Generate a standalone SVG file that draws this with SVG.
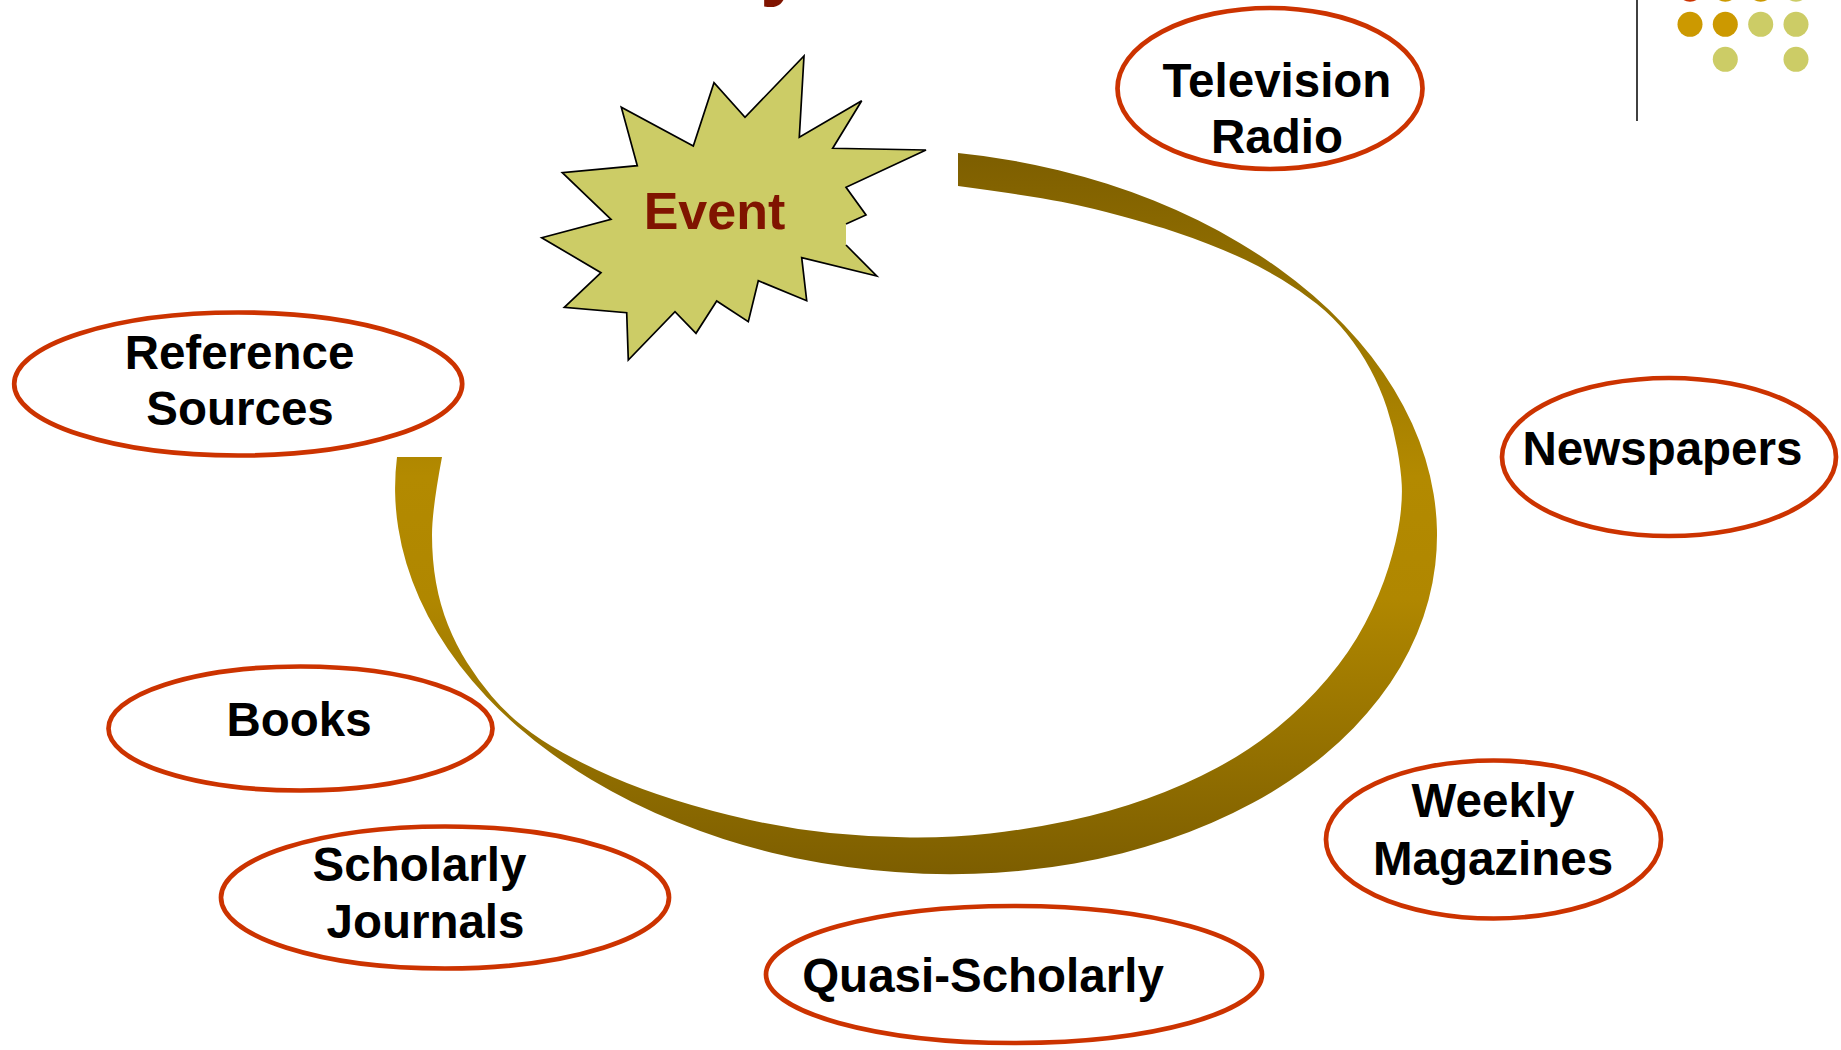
<svg xmlns="http://www.w3.org/2000/svg" width="1841" height="1050" viewBox="0 0 1841 1050">
<defs>
<linearGradient id="ribbonGrad" gradientUnits="userSpaceOnUse" x1="0" y1="153" x2="0" y2="873">
<stop offset="0" stop-color="#7d5e00"/>
<stop offset="0.45" stop-color="#b38a00"/>
<stop offset="0.62" stop-color="#b08700"/>
<stop offset="1" stop-color="#7d5e00"/>
</linearGradient>
<style>
.lbl{font-family:"Liberation Sans",Arial,Helvetica,sans-serif;font-weight:bold;font-size:47.5px;fill:#000;text-anchor:middle}
.node ellipse{fill:#fff;stroke:#cc3300;stroke-width:4.7}
.gold{fill:#cc9900}
.olive{fill:#cccc66}
.red{fill:#cc3300}
</style>
</defs>
<rect width="1841" height="1050" fill="#fff"/>
<g id="title-fragment">
<text x="760" y="-10" style="font-family:'Liberation Sans',Arial,sans-serif;font-weight:bold;font-size:80px;fill:#801400">y</text>
</g>
<g id="decoration">
<line x1="1637" y1="0" x2="1637" y2="121" stroke="#111" stroke-width="1.6"/>
<circle class="red" cx="1690" cy="-10.7" r="12.5"/>
<circle class="gold" cx="1725.3" cy="-10.7" r="12.5"/>
<circle class="gold" cx="1760.7" cy="-10.7" r="12.5"/>
<circle class="olive" cx="1796" cy="-10.7" r="12.5"/>
<circle class="gold" cx="1690" cy="24.3" r="12.5"/>
<circle class="gold" cx="1725.3" cy="24.3" r="12.5"/>
<circle class="olive" cx="1760.7" cy="24.3" r="12.5"/>
<circle class="olive" cx="1796" cy="24.3" r="12.5"/>
<circle class="olive" cx="1725.3" cy="59.3" r="12.5"/>
<circle class="olive" cx="1796" cy="59.3" r="12.5"/>
</g>
<g id="connectors">
<path id="cycle-ribbon" fill="url(#ribbonGrad)" d="M 958 153 A 522 361 5 1 1 397 457 L 442 457 Q 432 510 432 535 Q 432 560 436 582.5 Q 440 605 448 625 Q 456 645 467 662.5 Q 478 680 491.5 696 Q 505 712 522.5 726 Q 540 740 562.5 752.5 Q 585 765 612.5 777 Q 640 789 675 800 Q 710 811 750 820 Q 790 829 830 833 Q 870 837 910 837.5 Q 950 838 990 833.5 Q 1030 829 1070 820.5 Q 1110 812 1147.5 798.5 Q 1185 785 1217.5 767.5 Q 1250 750 1277.5 727.5 Q 1305 705 1327.5 678.5 Q 1350 652 1365 623.5 Q 1380 595 1388.5 567.5 Q 1397 540 1399.75 520 Q 1402.5 500 1401.75 484.8 Q 1401 469.6 1397.25 448.7 Q 1393.5 427.8 1386.85 407.7 Q 1380.2 387.6 1370.15 369 Q 1360.1 350.4 1346.8 333.85 Q 1333.5 317.3 1316.7 303.85 Q 1299.9 290.4 1281.8 279.5 Q 1263.7 268.6 1245.3 259.85 Q 1226.9 251.1 1208.85 244.15 Q 1190.8 237.2 1173.5 231.5 Q 1156.2 225.8 1123.9 216.85 Q 1091.6 207.9 1061.35 201.85 Q 1031.1 195.8 958 186 Z"/>
</g>
<g id="event">
<polygon fill="#cccc66" points="804,56 799.3,137.3 861.7,100.7 832.7,148.3 926,150 846,187.3 866,215 846,224 846,245 876.7,276 801.7,257.7 806.7,300.7 758.3,280.7 748.3,321.7 716.7,301 696,333.3 675,311.7 628.3,360 626.7,312.7 564.3,307.3 601,272.7 541.7,237.7 611,219.3 562.3,172.7 637.3,165.7 621.3,107.3 693.3,146 714,82.7 745,117.3"/>
<polyline fill="none" stroke="#000" stroke-width="1.7" points="846,245 876.7,276 801.7,257.7 806.7,300.7 758.3,280.7 748.3,321.7 716.7,301 696,333.3 675,311.7 628.3,360 626.7,312.7 564.3,307.3 601,272.7 541.7,237.7 611,219.3 562.3,172.7 637.3,165.7 621.3,107.3 693.3,146 714,82.7 745,117.3 804,56 799.3,137.3 861.7,100.7 832.7,148.3 926,150 846,187.3 866,215 846,224"/>
<text x="714.5" y="229.3" style="font-family:'Liberation Sans',Arial,sans-serif;font-weight:bold;font-size:52px;fill:#801400;text-anchor:middle">Event</text>
</g>
<g id="node-television-radio" class="node">
<ellipse cx="1270" cy="88.5" rx="152.5" ry="80.5"/>
<text class="lbl" x="1277" y="97">Television</text>
<text class="lbl" x="1277" y="153">Radio</text>
</g>
<g id="node-newspapers" class="node">
<ellipse cx="1669" cy="457" rx="167" ry="79"/>
<text class="lbl" x="1662.5" y="465">Newspapers</text>
</g>
<g id="node-reference-sources" class="node">
<ellipse cx="238.2" cy="384" rx="224" ry="71.5"/>
<text class="lbl" x="239.5" y="369">Reference</text>
<text class="lbl" x="240" y="425">Sources</text>
</g>
<g id="node-books" class="node">
<ellipse cx="300.5" cy="728.5" rx="192" ry="62"/>
<text class="lbl" x="299" y="736">Books</text>
</g>
<g id="node-scholarly-journals" class="node">
<ellipse cx="445" cy="897.5" rx="224" ry="71"/>
<text class="lbl" x="419.5" y="881">Scholarly</text>
<text class="lbl" x="425.5" y="938">Journals</text>
</g>
<g id="node-quasi-scholarly" class="node">
<ellipse cx="1014" cy="974.5" rx="248" ry="68.5"/>
<text class="lbl" x="983" y="992">Quasi-Scholarly</text>
</g>
<g id="node-weekly-magazines" class="node">
<ellipse cx="1493.5" cy="839.5" rx="167.5" ry="79"/>
<text class="lbl" x="1493" y="817">Weekly</text>
<text class="lbl" x="1493" y="875">Magazines</text>
</g>
</svg>
